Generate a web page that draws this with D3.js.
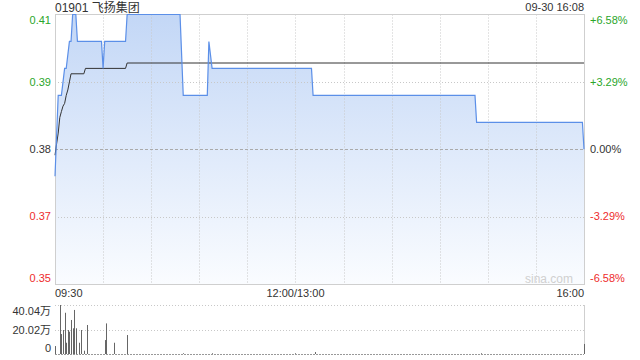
<!DOCTYPE html>
<html>
<head>
<meta charset="utf-8">
<script src="https://cdn.jsdelivr.net/npm/d3@7"></script>
<style>
  body { margin: 0; background: #fff; }
  svg { display: block; font-family: Arial, "Liberation Sans", "Noto Sans CJK SC", sans-serif; }
</style>
</head>
<body>
<script>
const width = 640;
const height = 360;

// stock info
const stockTitle = "01901 飞扬集团";
const stampText = "09-30 16:08";
const prevClose = 0.38;
const halfRange = 0.025;

// axis labels
const priceLabels = ["0.41", "0.39", "0.38", "0.37", "0.35"];
const pctLabels = ["+6.58%", "+3.29%", "0.00%", "-3.29%", "-6.58%"];
const timeLabels = ["09:30", "12:00/13:00", "16:00"];
const volLabels = ["40.04万", "20.02万", "0"];
const volMax = 40.04; // 万

// price line vertices: trading minute (0..330) and price
const priceMinutes = [0, 2, 4, 6, 7, 9, 10, 11, 13, 14, 29, 30, 31, 44, 45, 78, 80, 95, 96, 98, 160, 161, 262, 263, 329, 330];
const priceValues = [0.375, 0.39, 0.39, 0.395, 0.395, 0.40, 0.40, 0.405, 0.405, 0.40, 0.40, 0.395, 0.40, 0.40, 0.405, 0.405, 0.39, 0.39, 0.40, 0.395, 0.395, 0.39, 0.39, 0.385, 0.385, 0.38];

// average price line vertices
const avgMinutes = [0, 1, 2, 3, 4, 5, 6, 7, 8, 9, 10, 18, 19, 44, 45, 330];
const avgValues = [0.3789, 0.381, 0.383, 0.3859, 0.387, 0.388, 0.3885, 0.390, 0.391, 0.3925, 0.394, 0.394, 0.395, 0.395, 0.396, 0.396];

// volume bars (万)
const volMinutes = [0, 3, 4, 5, 6, 7, 8, 9, 10, 11, 12, 13, 15, 16, 18, 20, 31, 32, 37, 45, 80, 98, 150, 162, 266, 330];
const volValues = [6.5, 40.04, 16.3, 19.6, 33.7, 9.2, 19.6, 18.2, 27.8, 21.0, 36.0, 21.0, 9.2, 19.6, 2.7, 23.7, 11.4, 25.0, 9.2, 15.5, 0.6, 0.6, 0.6, 1.6, 0.6, 8.2];

const plotLeft = 55, plotRight = 584, plotTop = 14.5, plotBottom = 284;
const volTop = 305, volBottom = 354;

const svg = d3.select("body").append("svg")
    .attr("width", width)
    .attr("height", height);

const x = d3.scaleLinear().domain([0, 330]).range([plotLeft, plotRight]);
const y = d3.scaleLinear().domain([prevClose - halfRange, prevClose + halfRange]).range([plotBottom, plotTop]);
const yVol = d3.scaleLinear().domain([0, volMax]).range([volBottom, volTop]);

const levels = [2, 1, 0, -1, -2].map(k => prevClose + k * halfRange / 2);
const labelColor = (i) => i < 2 ? "#2aa62a" : (i === 2 ? "#333" : "#ee2c2c");

// gradient fill
const defs = svg.append("defs");
const grad = defs.append("linearGradient")
    .attr("id", "area-grad")
    .attr("x1", 0).attr("y1", 0).attr("x2", 0).attr("y2", 1);
grad.append("stop").attr("offset", "0%").attr("stop-color", "#c3d7f6");
grad.append("stop").attr("offset", "100%").attr("stop-color", "#fafcff");

const priceData = priceMinutes.map((m, i) => [m, priceValues[i]]);
const avgData = avgMinutes.map((m, i) => [m, avgValues[i]]);

svg.append("path")
    .datum(priceData)
    .attr("d", d3.area().x(d => x(d[0])).y0(plotBottom).y1(d => y(d[1])))
    .style("fill", "url(#area-grad)");

// grid
const grid = svg.append("g");
grid.selectAll(".vgrid")
    .data(d3.range(30, 330, 30))
    .enter()
    .append("line")
    .attr("x1", d => Math.round(x(d)) + 0.5)
    .attr("x2", d => Math.round(x(d)) + 0.5)
    .attr("y1", plotTop)
    .attr("y2", plotBottom)
    .style("stroke", "#c8c8c8")
    .style("stroke-dasharray", "1,2");

grid.selectAll(".hgrid")
    .data(levels.slice(1, 4))
    .enter()
    .append("line")
    .attr("x1", plotLeft)
    .attr("x2", plotRight)
    .attr("y1", d => Math.round(y(d)) + 0.5)
    .attr("y2", d => Math.round(y(d)) + 0.5)
    .style("stroke", (d, i) => i === 1 ? "#aaa" : "#c8c8c8")
    .style("stroke-dasharray", (d, i) => i === 1 ? "3,2" : "1,2");

svg.append("rect")
    .attr("x", plotLeft + 0.5)
    .attr("y", 14.5)
    .attr("width", plotRight - plotLeft)
    .attr("height", plotBottom - 14)
    .style("fill", "none")
    .style("stroke", "#cfcfcf");

// avg line
svg.append("path")
    .datum(avgData)
    .attr("d", d3.line().x(d => x(d[0])).y(d => y(d[1])))
    .style("fill", "none")
    .style("stroke", "#333")
    .style("stroke-width", 1);

// price line
svg.append("path")
    .datum(priceData)
    .attr("d", d3.line().x(d => x(d[0])).y(d => y(d[1])))
    .style("fill", "none")
    .style("stroke", "#5b8fe8")
    .style("stroke-width", 1.2);

// watermark
svg.append("text")
    .attr("x", 573).attr("y", 283)
    .attr("text-anchor", "end")
    .style("font-size", "12px")
    .style("fill", "#d0d0d0")
    .text("sina.com");

// price labels
const labelY = (i) => i === 0 ? y(levels[0]) + 6 : (i === 4 ? y(levels[4]) - 6 : y(levels[i]));
svg.selectAll(".plabel")
    .data(priceLabels)
    .enter()
    .append("text")
    .attr("x", 51)
    .attr("y", (d, i) => labelY(i))
    .attr("dy", "0.35em")
    .attr("text-anchor", "end")
    .style("font-size", "11px")
    .style("fill", (d, i) => labelColor(i))
    .text(d => d);

svg.selectAll(".pctlabel")
    .data(pctLabels)
    .enter()
    .append("text")
    .attr("x", 590)
    .attr("y", (d, i) => labelY(i))
    .attr("dy", "0.35em")
    .style("font-size", "11px")
    .style("fill", (d, i) => labelColor(i))
    .text(d => d);

// title
svg.append("text")
    .attr("x", 55).attr("y", 11.5)
    .style("font-size", "12px")
    .style("fill", "#333")
    .text(stockTitle);

svg.append("text")
    .attr("x", 584).attr("y", 11)
    .attr("text-anchor", "end")
    .style("font-size", "11px")
    .style("fill", "#333")
    .text(stampText);

// time labels
const timeX = [x(0), x(150), x(330)];
const timeAnchor = ["start", "middle", "end"];
svg.selectAll(".tlabel")
    .data(timeLabels)
    .enter()
    .append("text")
    .attr("x", (d, i) => timeX[i])
    .attr("y", 297)
    .attr("text-anchor", (d, i) => timeAnchor[i])
    .style("font-size", "11px")
    .style("fill", "#333")
    .text(d => d);

// volume panel
svg.selectAll(".vgrid2")
    .data([volMax, volMax / 2])
    .enter()
    .append("line")
    .attr("x1", plotLeft)
    .attr("x2", plotRight)
    .attr("y1", d => Math.round(yVol(d)) + 0.5)
    .attr("y2", d => Math.round(yVol(d)) + 0.5)
    .style("stroke", "#c8c8c8")
    .style("stroke-dasharray", "1,2");

svg.append("line")
    .attr("x1", plotRight + 0.5).attr("x2", plotRight + 0.5)
    .attr("y1", volTop).attr("y2", volBottom)
    .style("stroke", "#cfcfcf");

svg.append("line")
    .attr("x1", plotLeft).attr("x2", plotRight)
    .attr("y1", volBottom + 0.5).attr("y2", volBottom + 0.5)
    .style("stroke", "#999")
    .style("stroke-dasharray", "2,1");

svg.selectAll(".vbar")
    .data(volMinutes)
    .enter()
    .append("rect")
    .attr("x", d => Math.round(x(d)))
    .attr("y", (d, i) => yVol(volValues[i]))
    .attr("width", 1)
    .attr("height", (d, i) => volBottom - yVol(volValues[i]))
    .style("fill", "#666");

const volLabelY = [311, 330, 348];
svg.selectAll(".vlabel")
    .data(volLabels)
    .enter()
    .append("text")
    .attr("x", 51)
    .attr("y", (d, i) => volLabelY[i])
    .attr("dy", "0.35em")
    .attr("text-anchor", "end")
    .style("font-size", "11px")
    .style("fill", "#333")
    .text(d => d);
</script>
</body>
</html>
